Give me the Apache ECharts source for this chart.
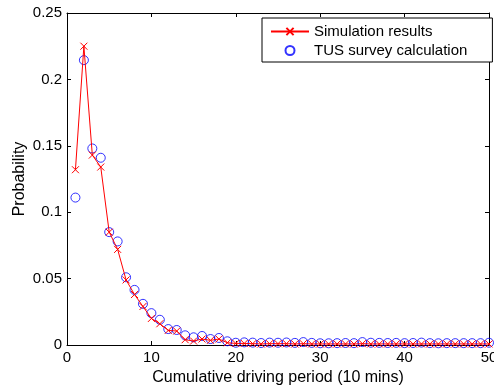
<!DOCTYPE html>
<html>
<head>
<meta charset="utf-8">
<script src="https://cdn.jsdelivr.net/npm/echarts@6/dist/echarts.min.js"></script>
<style>
html,body{margin:0;padding:0;background:#fff;}
#c{width:494px;height:390px;}
</style>
</head>
<body>
<div id="c"></div>
<script>
// x: cumulative driving period (10 mins), 1..50
const periods = [1,2,3,4,5,6,7,8,9,10,11,12,13,14,15,16,17,18,19,20,21,22,23,24,25,26,27,28,29,30,31,32,33,34,35,36,37,38,39,40,41,42,43,44,45,46,47,48,49,50];
const simulation = [0.132,0.225,0.143,0.134,0.085,0.072,0.049,0.038,0.029,0.020,0.016,0.011,0.0105,0.004,0.003,0.0045,0.0035,0.0045,0.0017,0.0012,
  0.0012,0.001,0.0008,0.001,0.001,0.001,0.0008,0.001,0.0008,0.0008,0.0008,0.0008,0.0008,0.0008,0.001,0.0008,0.0008,0.0008,0.0008,0.0008,
  0.0008,0.0008,0.0008,0.0008,0.0008,0.0008,0.0008,0.0008,0.0008,0.0008];
const tusSurvey = [0.111,0.2145,0.148,0.141,0.085,0.078,0.051,0.0415,0.031,0.024,0.019,0.012,0.0113,0.0073,0.0058,0.0068,0.0045,0.0053,0.0028,0.0017,
  0.002,0.0018,0.0015,0.0018,0.0017,0.0019,0.0016,0.0022,0.0016,0.0013,0.0013,0.0014,0.0015,0.0014,0.0022,0.0017,0.0016,0.0015,0.0016,0.0014,
  0.0015,0.0018,0.0014,0.0013,0.0014,0.0014,0.0014,0.0014,0.0014,0.0017];
const xTicks = [0,10,20,30,40,50];
const yTicks = [0,0.05,0.1,0.15,0.2,0.25];
const seriesNames = ['Simulation results','TUS survey calculation'];

const font = 'Liberation Sans, Arial, sans-serif';
const chart = echarts.init(document.getElementById('c'), null, {renderer:'canvas'});
const simData = periods.map((p,i)=>[p, simulation[i]]);
const tusData = periods.map((p,i)=>[p, tusSurvey[i]]);
const axisCommon = {
  axisLine:{show:true, onZero:false, lineStyle:{color:'#000', width:1}},
  axisTick:{show:true, inside:true, length:4, lineStyle:{color:'#000'}},
  splitLine:{show:false}
};
chart.setOption({
  animation:false,
  backgroundColor:'#fff',
  grid:{left:67, right:5, top:13, bottom:45, containLabel:false, outerBoundsMode:'none'},
  legend:{
    orient:'vertical', left:262, top:18,
    data:seriesNames,
    borderColor:'#000', borderWidth:1, borderRadius:0,
    padding:[6,25,4,8], itemGap:4, itemWidth:38, itemHeight:9,
    textStyle:{fontFamily:font, fontSize:15, color:'#000', padding:[0,0,0,0]},
    backgroundColor:'#fff'
  },
  xAxis:[
    Object.assign({type:'value', min:xTicks[0], max:xTicks[xTicks.length-1], interval:10, position:'bottom',
      name:'Cumulative driving period (10 mins)', nameLocation:'middle', nameGap:25, nameMoveOverlap:false,
      nameTextStyle:{fontFamily:font, fontSize:16, color:'#000'},
      axisLabel:{fontFamily:font, fontSize:15, color:'#000', margin:5}}, axisCommon),
    Object.assign({type:'value', min:xTicks[0], max:xTicks[xTicks.length-1], interval:10, position:'top',
      axisLabel:{show:false}}, axisCommon)
  ],
  yAxis:[
    Object.assign({type:'value', min:yTicks[0], max:yTicks[yTicks.length-1], interval:0.05, position:'left',
      name:'Probability', nameLocation:'middle', nameGap:39, nameMoveOverlap:false,
      nameTextStyle:{fontFamily:font, fontSize:16, color:'#000'},
      axisLabel:{fontFamily:font, fontSize:15, color:'#000', margin:5,
        formatter:v=>String(Math.round(v*100)/100)}}, axisCommon),
    Object.assign({type:'value', min:yTicks[0], max:yTicks[yTicks.length-1], interval:0.05, position:'right',
      axisLabel:{show:false}}, axisCommon)
  ],
  series:[
    {
      name:seriesNames[0], type:'line', data:simData, z:3,
      symbol:'path://M0,0L10,10M10,0L0,10', symbolSize:7, showAllSymbol:true,
      lineStyle:{color:'#ff0000', width:1},
      itemStyle:{color:'#ff0000', borderColor:'#ff0000', borderWidth:1}
    },
    {
      name:seriesNames[1], type:'scatter', data:tusData, z:2,
      symbol:'circle', symbolSize:9,
      itemStyle:{color:'rgba(0,0,0,0)', borderColor:'#0000ff', borderWidth:1}
    }
  ]
});
</script>
</body>
</html>
